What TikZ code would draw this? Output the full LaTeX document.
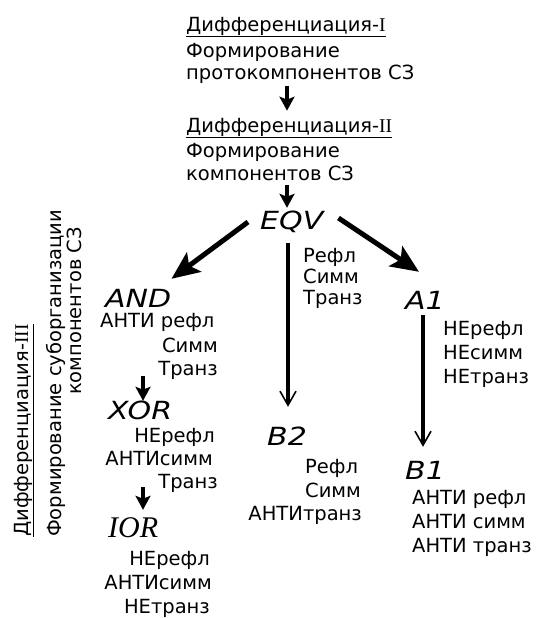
\documentclass[tikz,border=0pt]{standalone}
\usepackage{fontspec}
\usepackage{graphicx}
\setmainfont{DejaVu Sans}
\newfontfamily\serifit{Liberation Serif}
\usetikzlibrary{arrows.meta}
\newcommand{\lbx}[1]{\scalebox{1.2}[1]{#1}}
\newcommand{\romI}[1]{{\serifit #1}}
\begin{document}
\begin{tikzpicture}[x=1pt,y=-1pt,
  txt/.style={inner sep=0pt, font=\fontsize{19.5}{24}\selectfont, text height=14.2pt, text depth=0pt},
  lab/.style={inner sep=0pt, font=\fontsize{25}{30}\selectfont\itshape, text height=18pt, text depth=0pt},
  iorlab/.style={inner sep=0pt, font=\fontsize{30}{34}\selectfont\serifit\itshape, text height=20pt, text depth=0pt},
  uline/.style={line width=1.4pt},
  smallarr/.style={line width=3.2pt, -{Stealth[width=15pt,length=14pt,inset=3pt]}},
  bigarr/.style={line width=5pt, -{Stealth[width=24pt,length=28pt,inset=6pt]}},
  longarr/.style={line width=4pt, -{Straight Barb[width=16pt,length=14pt,line width'=1.6pt]}}]
\useasboundingbox (0,0) rectangle (536,618);

% top block
\node[txt, anchor=west] (t1) at (186,24) {Дифференциация-\romI{I}};
\draw[uline] ([yshift=-5pt]t1.south west) -- ([yshift=-5pt]t1.south east);
\node[txt, anchor=west] (t2) at (186,50) {Формирование};
\node[txt, anchor=west] (t3) at (186,72) {протокомпонентов СЗ};
\node[txt, anchor=west] (t4) at (186,125) {Дифференциация-\romI{II}};
\draw[uline] ([yshift=-5pt]t4.south west) -- ([yshift=-5pt]t4.south east);
\node[txt, anchor=west] (t5) at (186,150) {Формирование};
\node[txt, anchor=west] (t6) at (186,173) {компонентов СЗ};

% labels
\node[lab, anchor=west] (eqv) at (260,220) {\lbx{EQV}};
\node[lab, anchor=west] (and) at (105,298) {\lbx{AND}};
\node[lab, anchor=west] (xor) at (108,410) {\lbx{XOR}};
\node[iorlab, anchor=west] (ior) at (108,527) {IOR};
\node[lab, anchor=west] (a1) at (405,300) {\lbx{A1}};
\node[lab, anchor=west] (b2) at (267,436) {\lbx{B2}};
\node[lab, anchor=west] (b1) at (405,470) {\lbx{B1}};

% helper columns
\coordinate (cx) at (287,0);
\coordinate (bx) at (288,0);
\coordinate (ax) at (423,0);
\coordinate (lx) at (143,0);

% arrows
\draw[smallarr, shorten <=7pt, shorten >=7pt] (t3.south -| cx) -- (t4.north -| cx);
\draw[smallarr, shorten <=5pt, shorten >=3pt] (t6.south -| cx) -- (eqv.north -| cx);
\draw[bigarr] ([xshift=-12pt,yshift=-2pt]eqv.west) -- ([yshift=10pt]and.north east);
\draw[bigarr] ([xshift=15pt,yshift=2pt]eqv.east) -- ([xshift=-6pt,yshift=19pt]a1.north);
\draw[longarr, shorten <=14pt, shorten >=20pt] (eqv.south -| bx) -- (b2.north -| bx);
\draw[longarr, shorten <=6pt, shorten >=14pt] (a1.south -| ax) -- (b1.north -| ax);
\draw[smallarr, shorten <=69pt] (and.south -| lx) -- (xor.north -| lx);
\draw[smallarr, shorten <=68pt, shorten >=7pt] (xor.south -| lx) -- (ior.north -| lx);

% EQV properties
\node[txt, anchor=west] (e1) at (303,255) {Рефл};
\node[txt, anchor=west] (e2) at (303,276) {Симм};
\node[txt, anchor=west] (e3) at (303,297) {Транз};

% AND properties
\node[txt, anchor=west] (n1) at (100,320) {АНТИ рефл};
\node[txt, anchor=east] (n2) at (218,345) {Симм};
\node[txt, anchor=east] (n3) at (218,368) {Транз};

% XOR properties
\node[txt, anchor=east] (x1) at (215,435) {НЕрефл};
\node[txt, anchor=east] (x2) at (213,458) {АНТИсимм};
\node[txt, anchor=east] (x3) at (218,481) {Транз};

% IOR properties
\node[txt, anchor=east] (i1) at (210,558) {НЕрефл};
\node[txt, anchor=east] (i2) at (212,582) {АНТИсимм};
\node[txt, anchor=east] (i3) at (210,606) {НЕтранз};

% A1 properties
\node[txt, anchor=west] (a11) at (443,328) {НЕрефл};
\node[txt, anchor=west] (a12) at (443,352) {НЕсимм};
\node[txt, anchor=west] (a13) at (443,376) {НЕтранз};

% B2 properties
\node[txt, anchor=west] (b21) at (305,466) {Рефл};
\node[txt, anchor=west] (b22) at (305,490) {Симм};
\node[txt, anchor=east] (b23) at (362,513) {АНТИтранз};

% B1 properties
\node[txt, anchor=west] (b11) at (412,497) {АНТИ рефл};
\node[txt, anchor=west] (b12) at (412,521) {АНТИ симм};
\node[txt, anchor=west] (b13) at (412,545) {АНТИ транз};

% rotated side text
\node[txt, rotate=90, anchor=west] (r1) at (21,537) {Дифференциация-\romI{III}};
\draw[uline] ([xshift=5pt]r1.south west) -- ([xshift=5pt]r1.south east);
\node[txt, rotate=90, anchor=west] (r2) at (54,537) {Формирование суборганизации};
\node[txt, rotate=90, anchor=east] (r3) at (74,227) {компонентов СЗ};
\end{tikzpicture}
\end{document}
